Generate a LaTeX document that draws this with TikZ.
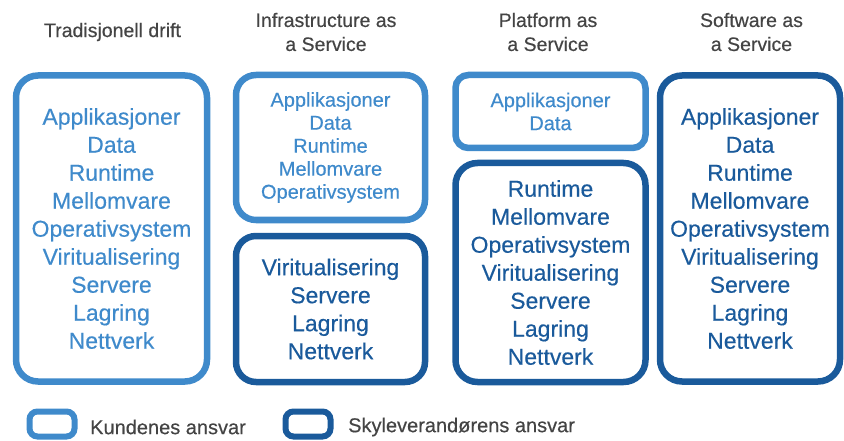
\documentclass[tikz,border=0pt]{standalone}
\usepackage{fontspec}
\setmainfont{Liberation Sans}[FakeBold=0.4]
\definecolor{custblue}{HTML}{3F8ACB}
\definecolor{provblue}{HTML}{1A5A9B}
\definecolor{headgray}{HTML}{444444}
\begin{document}
\begin{tikzpicture}[x=1pt,y=-1pt,
  layer/.style={draw, line width=6.5pt, rounded corners=22pt, align=center,
    inner sep=0pt, font=\fontsize{23}{28}\selectfont},
  cust/.style={layer, draw=custblue, text=custblue},
  prov/.style={layer, draw=provblue, text=provblue},
  small/.style={font=\fontsize{20}{23}\selectfont},
  head/.style={align=center, text=headgray, inner sep=0pt,
    font=\fontsize{19.5}{24}\selectfont},
  key/.style={draw, line width=6pt, rounded corners=8pt, minimum width=45pt,
    minimum height=25pt, inner sep=0pt},
  keytext/.style={anchor=west, text=headgray, inner sep=0pt,
    font=\fontsize{20}{24}\selectfont}]
\useasboundingbox (0,0) rectangle (844,441);

% column headings
\node[head] (h1) at (112.5,32) {Tradisjonell drift};
\node[head] (h2) at (326,32) {Infrastructure as\\a Service};
\node[head] (h3) at (548,32) {Platform as\\a Service};
\node[head] (h4) at (751.5,32) {Software as\\a Service};

% traditional operation
\node[cust, minimum width=191pt, minimum height=306pt] (trad) at (111.5,228.5)
  {Applikasjoner\\Data\\Runtime\\Mellomvare\\Operativsystem\\Viritualisering\\Servere\\Lagring\\Nettverk};

% IaaS
\node[cust, small, rounded corners=20pt, minimum width=189pt, minimum height=145pt] (iaasc) at (330.5,147.5)
  {Applikasjoner\\Data\\Runtime\\Mellomvare\\Operativsystem};
\node[prov, rounded corners=20pt, minimum width=189pt, minimum height=146pt] (iaasp) at (330.5,309)
  {Viritualisering\\Servere\\Lagring\\Nettverk};

% PaaS
\node[cust, small, rounded corners=13pt, minimum width=190pt, minimum height=73pt] (paasc) at (550.5,111.5)
  {Applikasjoner\\Data};
\node[prov, minimum width=190pt, minimum height=219pt] (paasp) at (550.5,272.5)
  {Runtime\\Mellomvare\\Operativsystem\\Viritualisering\\Servere\\Lagring\\Nettverk};

% SaaS
\node[prov, minimum width=180pt, minimum height=306pt] (saas) at (750,228.5)
  {Applikasjoner\\Data\\Runtime\\Mellomvare\\Operativsystem\\Viritualisering\\Servere\\Lagring\\Nettverk};

% legend
\node[key, draw=custblue] (k1) at (52,424) {};
\node[keytext] (k1t) at (90,427) {Kundenes ansvar};
\node[key, draw=provblue] (k2) at (308,424) {};
\node[keytext] (k2t) at (348,427) {Skyleverandørens ansvar};
\end{tikzpicture}
\end{document}
